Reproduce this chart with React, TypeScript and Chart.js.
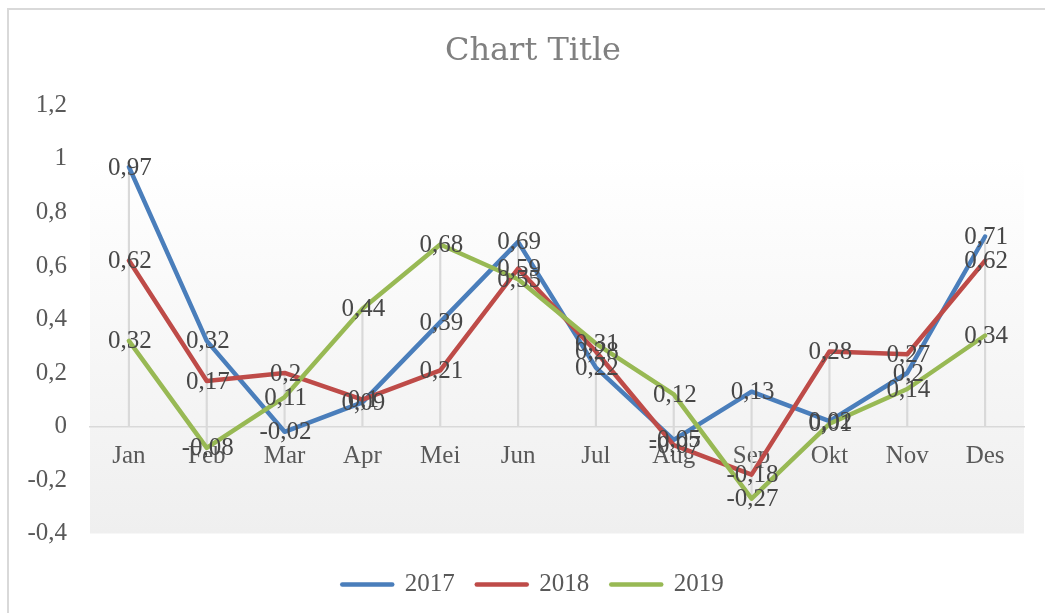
import { useEffect, useRef } from 'react';
import { Chart, registerables } from 'chart.js';

Chart.register(...registerables);

const chartTitle = 'Chart Title';
const categories = ['Jan', 'Feb', 'Mar', 'Apr', 'Mei', 'Jun', 'Jul', 'Aug', 'Sep', 'Okt', 'Nov', 'Des'];
const seriesNames = ['2017', '2018', '2019'];
const values2017 = [0.97, 0.32, -0.02, 0.09, 0.39, 0.69, 0.22, -0.05, 0.13, 0.02, 0.2, 0.71];
const values2018 = [0.62, 0.17, 0.2, 0.1, 0.21, 0.59, 0.28, -0.07, -0.18, 0.28, 0.27, 0.62];
const values2019 = [0.32, -0.08, 0.11, 0.44, 0.68, 0.55, 0.31, 0.12, -0.27, 0.01, 0.14, 0.34];
const yMin = -0.4;
const yMax = 1.2;
const yStep = 0.2;

const seriesColors = ['#4A7EBB', '#BE4B48', '#98B954'];
const SERIF = '"Liberation Serif", "Times New Roman", serif';

const fmt = (v: number) => String(Number(v.toFixed(2))).replace('.', ',');

const plotBackground = {
  id: 'plotBackground',
  beforeDraw(chart: any) {
    const { ctx, chartArea } = chart;
    if (!chartArea) return;
    const g = ctx.createLinearGradient(0, chartArea.top, 0, chartArea.bottom);
    g.addColorStop(0, '#ffffff');
    g.addColorStop(0.12, '#ffffff');
    g.addColorStop(1, '#efefef');
    ctx.save();
    ctx.fillStyle = g;
    ctx.fillRect(chartArea.left, chartArea.top, chartArea.right - chartArea.left, chartArea.bottom - chartArea.top);
    ctx.restore();
  },
};

const pointLabels = {
  id: 'pointLabels',
  afterDatasetsDraw(chart: any) {
    const ctx = chart.ctx;
    ctx.save();
    ctx.font = `25px ${SERIF}`;
    ctx.fillStyle = '#474747';
    ctx.textAlign = 'center';
    ctx.textBaseline = 'middle';
    chart.data.datasets.forEach((ds: any, di: number) => {
      if (ds.type === 'bar') return;
      const meta = chart.getDatasetMeta(di);
      meta.data.forEach((pt: any, i: number) => {
        ctx.fillText(fmt(ds.data[i]), pt.x + 1, pt.y + 1);
      });
    });
    ctx.restore();
  },
};

export default function App() {
  const ref = useRef<HTMLCanvasElement>(null);

  useEffect(() => {
    if (!ref.current) return;
    const all = [values2017, values2018, values2019];
    const dropRanges = categories.map((_, i) => [
      Math.min(0, ...all.map((s) => s[i])),
      Math.max(0, ...all.map((s) => s[i])),
    ]);
    const lineSets = all.map((vals, k) => ({
      type: 'line' as const,
      label: seriesNames[k],
      data: vals,
      borderColor: seriesColors[k],
      backgroundColor: seriesColors[k],
      borderWidth: 4.5,
      pointRadius: 0,
      pointHoverRadius: 0,
      tension: 0,
      borderJoinStyle: 'round' as const,
      borderCapStyle: 'round' as const,
      order: 3 - k,
    }));
    const chart = new Chart(ref.current, {
      data: {
        labels: categories,
        datasets: [
          ...lineSets,
          {
            type: 'bar' as const,
            label: 'drop',
            data: dropRanges as any,
            backgroundColor: '#d9d9d9',
            borderWidth: 0,
            barThickness: 1.5,
            order: 10,
          },
        ],
      },
      options: {
        responsive: false,
        animation: false,
        events: [],
        layout: { padding: { left: 42, right: 21, top: 10, bottom: 6 } },
        scales: {
          x: {
            type: 'category',
            position: { y: 0 } as any,
            offset: true,
            grid: { display: false, drawTicks: false },
            border: { display: true, color: '#d9d9d9', width: 1.5 },
            ticks: { color: '#595959', font: { family: SERIF, size: 25 }, padding: 15, maxRotation: 0, autoSkip: false },
          },
          y: {
            type: 'linear',
            min: yMin,
            max: yMax,
            grid: { display: false, drawTicks: false },
            border: { display: false },
            ticks: {
              stepSize: yStep,
              color: '#595959',
              font: { family: SERIF, size: 25 },
              mirror: true,
              crossAlign: 'far',
              padding: -62.6,
              callback: (v: any) => fmt(Number(v)),
            },
            afterFit: (s: any) => {
              s.width = 48;
            },
          },
        },
        plugins: {
          tooltip: { enabled: false },
          title: {
            display: true,
            text: chartTitle,
            color: '#808080',
            font: { family: '"DejaVu Serif", serif', size: 32, weight: 'normal', lineHeight: 1.2 },
            padding: { top: 22, bottom: 35 },
          },
          legend: {
            display: true,
            position: 'bottom',
            title: { display: true, text: '', padding: { top: 16, bottom: 0 }, font: { size: 1, lineHeight: 0.5 } },
            labels: {
              usePointStyle: true,
              pointStyle: 'line',
              pointStyleWidth: 50,
              padding: 22,
              color: '#595959',
              font: { family: SERIF, size: 25 },
              filter: (item: any) => item.datasetIndex < 3,
              sort: (a: any, b: any) => a.datasetIndex - b.datasetIndex,
              generateLabels: (chart: any) => {
                const base = Chart.defaults.plugins.legend.labels.generateLabels(chart);
                return base.map((it: any) => {
                  const c = seriesColors[it.datasetIndex] || '#d9d9d9';
                  return { ...it, strokeStyle: c, fillStyle: c, lineWidth: 4.5, lineCap: 'round', pointStyle: 'line' };
                });
              },
            },
          },
        },
      },
      plugins: [plotBackground, pointLabels],
    } as any);
    return () => chart.destroy();
  }, []);

  return (
    <div style={{ position: 'fixed', left: 0, top: 0, width: 1045, height: 613, overflow: 'hidden', background: '#fff' }}>
      <div
        style={{
          position: 'absolute',
          left: 7,
          top: 8,
          width: 1100,
          height: 700,
          border: '2px solid #d9d9d9',
        }}
      />
      <canvas ref={ref} width={1045} height={613} style={{ position: 'absolute', left: 0, top: 0, width: 1045, height: 613 }} />
    </div>
  );
}
